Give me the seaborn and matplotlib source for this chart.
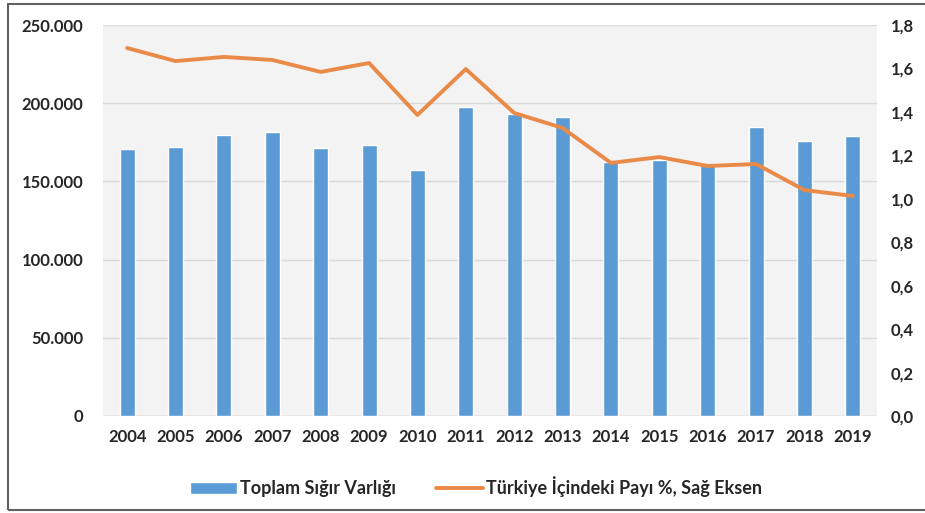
import numpy as np
import pandas as pd
import matplotlib
matplotlib.use("Agg")
import matplotlib.pyplot as plt
from matplotlib.ticker import FuncFormatter, MultipleLocator
from matplotlib.lines import Line2D
from matplotlib.patches import Patch, Rectangle
import seaborn as sns

# Datos
years = ["2004", "2005", "2006", "2007", "2008", "2009", "2010", "2011",
         "2012", "2013", "2014", "2015", "2016", "2017", "2018", "2019"]
sigir_varligi = [170700, 172000, 179700, 181600, 171400, 173300, 157300, 197600,
                 193100, 191200, 162400, 163700, 161100, 184800, 175800, 179000]
turkiye_payi = [1.694, 1.634, 1.653, 1.639, 1.584, 1.625, 1.386, 1.597,
                1.395, 1.326, 1.165, 1.192, 1.151, 1.160, 1.040, 1.013]

bar_label = "Toplam Sığır Varlığı"
line_label = "Türkiye İçindeki Payı %, Sağ Eksen"

bar_color = "#5b9bd5"
line_color = "#ea8a48"

sns.set_style("white")
plt.rcParams['font.family'] = ['Lato', 'DejaVu Sans']
plt.rcParams['font.weight'] = 'bold'

df = pd.DataFrame({"year": years, "pos": np.arange(len(years)),
                   "sigir": sigir_varligi, "pay": turkiye_payi})

fig = plt.figure(figsize=(9.25, 5.13), dpi=100)
ax = fig.add_axes([103 / 925, 97 / 513, 774 / 925, 391 / 513])
ax.set_facecolor("#f3f3f3")

sns.barplot(data=df, x="pos", y="sigir", color=bar_color, width=0.31,
            saturation=1, ax=ax, zorder=3)
ax.set_ylim(0, 250000)
ax.set_xlim(-0.5, len(years) - 0.5)
ax.yaxis.set_major_locator(MultipleLocator(50000))
ax.yaxis.set_major_formatter(FuncFormatter(lambda v, p: f"{int(v):,}".replace(",", ".")))
ax.set_xticks(np.arange(len(years)))
ax.set_xticklabels(years)
ax.grid(axis="y", color="#d9d9d9", linewidth=1, zorder=0)
ax.set_axisbelow(True)
ax.set_xlabel("")
ax.set_ylabel("")
for s in ax.spines.values():
    s.set_visible(False)
ax.axhline(0, color="#d0d0d0", linewidth=1, zorder=2)
ax.tick_params(axis="both", length=0, labelsize=12, colors="#262626")
ax.tick_params(axis="y", pad=14)
ax.tick_params(axis="x", pad=9)

ax2 = ax.twinx()
sns.lineplot(data=df, x="pos", y="pay", color=line_color, linewidth=2.8, ax=ax2)
ax2.set_ylim(0, 1.8)
ax2.yaxis.set_major_locator(MultipleLocator(0.2))
ax2.yaxis.set_major_formatter(FuncFormatter(lambda v, p: f"{v:.1f}".replace(".", ",")))
ax2.set_ylabel("")
for s in ax2.spines.values():
    s.set_visible(False)
ax2.tick_params(axis="y", length=0, labelsize=12, colors="#262626", pad=10)

handles = [Patch(facecolor=bar_color, label=bar_label),
           Line2D([0], [0], color=line_color, linewidth=2.8, label=line_label)]
fig.legend(handles=handles, loc="center", bbox_to_anchor=(476 / 925, 1 - 487 / 513),
           ncol=2, frameon=False, fontsize=13, handlelength=2.6,
           columnspacing=2.2, handletextpad=0.2)

# Marco exterior
fig.patches.append(Rectangle((8 / 925, 3 / 513), 1.0, 1 - 7 / 513,
                             transform=fig.transFigure, fill=False,
                             edgecolor="#606060", linewidth=1.5))

plt.savefig("out.png", dpi=100)
